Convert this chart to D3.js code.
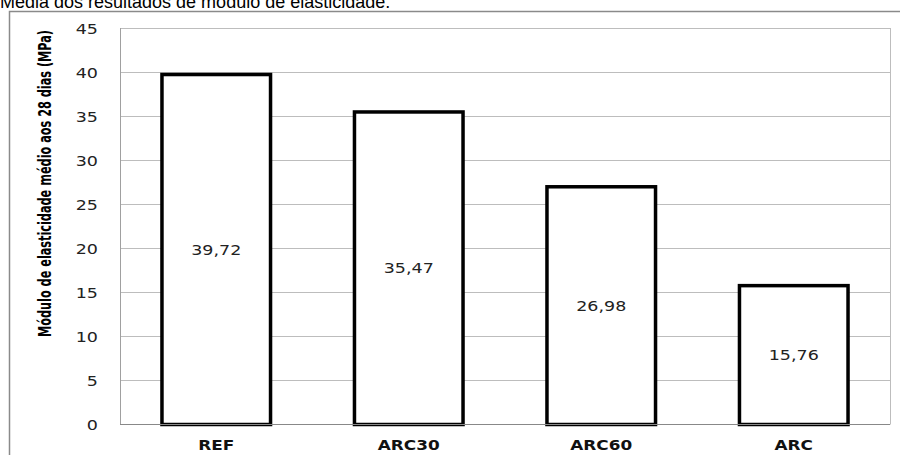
<!DOCTYPE html>
<html><head><meta charset="utf-8">
<script src="https://cdn.jsdelivr.net/npm/d3@7"></script>
<style>html,body{margin:0;padding:0;background:#fff;overflow:hidden}</style>
</head><body>
<svg id="c" width="900" height="455"></svg>
<script>
const categories = ["REF", "ARC30", "ARC60", "ARC"];
const values = [39.72, 35.47, 26.98, 15.76];
const valueLabels = ["39,72", "35,47", "26,98", "15,76"];
const yTicks = [0, 5, 10, 15, 20, 25, 30, 35, 40, 45];
const title = "Média dos resultados de módulo de elasticidade.";
const yTitle = "Módulo de elasticidade médio aos 28 dias (MPa)";

const svg = d3.select("#c");
const L = 120, R = 890, T = 28, B = 424.5;
const SX = 1.25;

// outer frame
svg.append("rect").attr("x", 9.5).attr("y", 11.5).attr("width", 900).attr("height", 460)
  .attr("fill", "none").attr("stroke", "#8a8a8a").attr("stroke-width", 1.5);

// title
svg.append("text").attr("x", 0).attr("y", 8)
  .attr("font-family", "Liberation Sans, Arial, sans-serif").attr("font-size", 18)
  .attr("fill", "#000").text(title);

const x = d3.scaleBand().domain(categories).range([L, R]).paddingInner(0.436).paddingOuter(0.218);
const y = d3.scaleLinear().domain([0, 45]).range([B, T]);

// gridlines
svg.append("g").selectAll("line").data(yTicks.filter(d => d > 0)).join("line")
  .attr("x1", L).attr("x2", R).attr("y1", d => Math.round(y(d)) + 0.5).attr("y2", d => Math.round(y(d)) + 0.5)
  .attr("stroke", "#bdbdbd").attr("stroke-width", 1.2);

// plot area sides
svg.append("line").attr("x1", L + 0.5).attr("x2", L + 0.5).attr("y1", T).attr("y2", B).attr("stroke", "#a0a0a0");
svg.append("line").attr("x1", R + 0.5).attr("x2", R + 0.5).attr("y1", T).attr("y2", B).attr("stroke", "#bdbdbd");

// y tick labels
const yAxis = d3.axisLeft(y).tickValues(yTicks).tickSize(0).tickPadding(0);
const gy = svg.append("g").attr("transform", `translate(98,0)`).call(yAxis);
gy.select(".domain").remove();
gy.selectAll("text").attr("font-family", "DejaVu Sans, Verdana, sans-serif").attr("font-size", 14)
  .attr("fill", "#222").attr("x", 0).attr("dy", "0.36em")
  .attr("transform", function(d){ return `translate(0,${y(d)}) scale(${SX},1) translate(0,${-y(d)})`; });

// bars
svg.append("g").selectAll("rect").data(values).join("rect")
  .attr("x", (d, i) => x(categories[i]))
  .attr("y", d => y(d))
  .attr("width", x.bandwidth())
  .attr("height", d => B - y(d))
  .attr("fill", "#fff").attr("stroke", "#000").attr("stroke-width", 3.5);

// x axis line
svg.append("line").attr("x1", L).attr("x2", R).attr("y1", B).attr("y2", B)
  .attr("stroke", "#888").attr("stroke-width", 1.2);

// value labels
svg.append("g").selectAll("text").data(values).join("text")
  .attr("transform", (d, i) => `translate(${x(categories[i]) + x.bandwidth() / 2},${y(d / 2)}) scale(${SX},1)`)
  .attr("text-anchor", "middle").attr("dy", "0.36em")
  .attr("font-family", "DejaVu Sans, Verdana, sans-serif").attr("font-size", 14).attr("fill", "#222")
  .text((d, i) => valueLabels[i]);

// x labels
const xAxis = d3.axisBottom(x).tickSize(0).tickPadding(0);
const gx = svg.append("g").attr("transform", `translate(0,${B})`).call(xAxis);
gx.select(".domain").remove();
gx.selectAll("text").attr("font-family", "DejaVu Sans, Verdana, sans-serif").attr("font-size", 13.5)
  .attr("font-weight", "bold").attr("fill", "#111").attr("y", 0).attr("dy", 0)
  .attr("transform", `translate(0,25.5) scale(${SX},1)`);

// y title
svg.append("text")
  .attr("transform", "translate(51,183.5) rotate(-90)")
  .attr("text-anchor", "middle")
  .attr("font-family", "Liberation Sans Narrow, DejaVu Sans Condensed, sans-serif")
  .attr("font-weight", "bold").attr("font-size", 17).attr("fill", "#000")
  .attr("textLength", 307).attr("lengthAdjust", "spacingAndGlyphs")
  .text(yTitle);
</script>
</body></html>
